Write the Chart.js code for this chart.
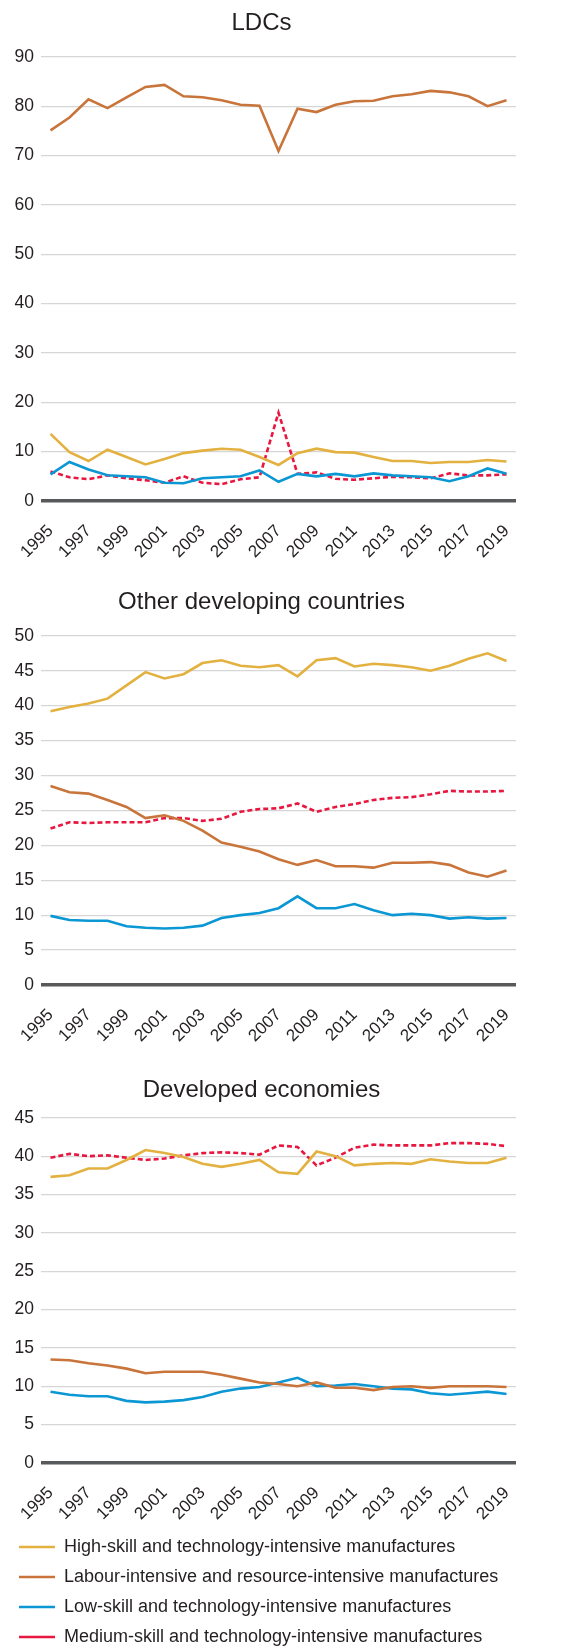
<!DOCTYPE html>
<html>
<head>
<meta charset="utf-8">
<script src="https://cdn.jsdelivr.net/npm/chart.js@4"></script>
<style>
  html, body { margin: 0; padding: 0; background: #fff; }
  body { width: 586px; height: 1646px; position: relative; overflow: hidden; }
  .box { position: absolute; left: 0; width: 586px; }
</style>
</head>
<body>
<div class="box" style="top:1px;height:563px"><canvas id="ldcChart"></canvas></div>
<div class="box" style="top:582px;height:466px"><canvas id="odcChart"></canvas></div>
<div class="box" style="top:1065px;height:591px"><canvas id="devChart"></canvas></div>
<script>
// Years on the x axis
const years = ['1995', '1996', '1997', '1998', '1999', '2000', '2001', '2002', '2003', '2004',
    '2005', '2006', '2007', '2008', '2009', '2010', '2011', '2012', '2013', '2014',
    '2015', '2016', '2017', '2018', '2019'];

const seriesNames = [
    'High-skill and technology-intensive manufactures',
    'Labour-intensive and resource-intensive manufactures',
    'Low-skill and technology-intensive manufactures',
    'Medium-skill and technology-intensive manufactures'
];

// LDCs (share, %)
const ldcHigh = [13.6, 9.9, 8.1, 10.4, 8.9, 7.4, 8.5, 9.7, 10.2, 10.6, 10.4, 8.9, 7.3, 9.7, 10.6, 9.9, 9.8, 8.9, 8.1, 8.1, 7.7, 7.9, 7.9, 8.3, 8.0];
const ldcLabour = [75.1, 77.7, 81.4, 79.6, 81.8, 83.9, 84.3, 82.0, 81.8, 81.2, 80.3, 80.1, 70.9, 79.5, 78.8, 80.3, 81.0, 81.1, 82.0, 82.4, 83.1, 82.8, 82.0, 80.0, 81.2];
const ldcLow = [5.4, 7.9, 6.4, 5.2, 5.0, 4.8, 3.7, 3.6, 4.6, 4.8, 5.0, 6.2, 3.9, 5.5, 5.0, 5.5, 5.0, 5.6, 5.2, 5.0, 4.8, 4.0, 5.0, 6.6, 5.5];
const ldcMedium = [6.0, 4.8, 4.4, 5.2, 4.6, 4.2, 3.7, 5.0, 3.7, 3.4, 4.4, 4.8, 17.9, 5.5, 5.8, 4.5, 4.3, 4.6, 4.9, 4.8, 4.6, 5.6, 5.2, 5.2, 5.4];

// Other developing countries
const odcHigh = [39.2, 39.8, 40.3, 41.0, 42.9, 44.8, 43.9, 44.5, 46.1, 46.5, 45.7, 45.5, 45.8, 44.2, 46.5, 46.8, 45.6, 46.0, 45.8, 45.5, 45.0, 45.7, 46.7, 47.5, 46.4];
const odcLabour = [28.5, 27.6, 27.4, 26.5, 25.5, 23.9, 24.3, 23.5, 22.1, 20.4, 19.8, 19.1, 18.0, 17.2, 17.9, 17.0, 17.0, 16.8, 17.5, 17.5, 17.6, 17.2, 16.1, 15.5, 16.4];
const odcLow = [9.9, 9.3, 9.2, 9.2, 8.4, 8.2, 8.1, 8.2, 8.5, 9.6, 10.0, 10.3, 11.0, 12.7, 11.0, 11.0, 11.6, 10.7, 10.0, 10.2, 10.0, 9.5, 9.7, 9.5, 9.6];
const odcMedium = [22.4, 23.3, 23.2, 23.3, 23.3, 23.3, 23.9, 23.9, 23.5, 23.8, 24.8, 25.2, 25.3, 26.0, 24.8, 25.5, 25.9, 26.5, 26.8, 26.9, 27.3, 27.8, 27.7, 27.7, 27.8];

// Developed economies
const devHigh = [37.3, 37.5, 38.4, 38.4, 39.5, 40.8, 40.4, 39.9, 39.0, 38.6, 39.0, 39.5, 37.9, 37.7, 40.6, 40.0, 38.8, 39.0, 39.1, 39.0, 39.6, 39.3, 39.1, 39.1, 39.8];
const devLabour = [13.5, 13.4, 13.0, 12.7, 12.3, 11.7, 11.9, 11.9, 11.9, 11.5, 11.0, 10.5, 10.3, 10.0, 10.5, 9.8, 9.8, 9.5, 9.9, 10.0, 9.8, 10.0, 10.0, 10.0, 9.9];
const devLow = [9.3, 8.9, 8.7, 8.7, 8.1, 7.9, 8.0, 8.2, 8.6, 9.3, 9.7, 9.9, 10.5, 11.1, 10.0, 10.1, 10.3, 10.0, 9.7, 9.6, 9.1, 8.9, 9.1, 9.3, 9.0];
const devMedium = [39.8, 40.3, 40.0, 40.1, 39.8, 39.5, 39.7, 40.1, 40.4, 40.5, 40.4, 40.2, 41.4, 41.2, 38.8, 39.8, 41.1, 41.5, 41.4, 41.4, 41.4, 41.7, 41.7, 41.6, 41.3];

const colors = ['#e3b140', '#c8743a', '#0b97d3', '#e8173f'];
const FONT = "'Liberation Sans', Arial, sans-serif";
const TEXT = '#231f20';

function makeDatasets(high, labour, low, medium) {
    return [high, labour, low, medium].map((d, i) => ({
        label: seriesNames[i],
        data: d,
        borderColor: colors[i],
        backgroundColor: colors[i],
        borderWidth: 2.6,
        borderDash: i === 3 ? [5, 3] : [],
        pointRadius: 0,
        tension: 0,
        fill: false
    }));
}

function makeChart(id, title, datasets, yMax, yStep, titlePad, showLegend) {
    return new Chart(document.getElementById(id), {
        type: 'line',
        data: { labels: years, datasets: datasets },
        options: {
            responsive: true,
            maintainAspectRatio: false,
            animation: false,
            layout: { padding: { left: 7, right: 70, top: 0, bottom: 0 } },
            plugins: {
                title: {
                    display: true,
                    text: title,
                    color: TEXT,
                    font: { family: FONT, size: 24, weight: 'normal' },
                    padding: titlePad
                },
                legend: {
                    display: showLegend,
                    position: 'bottom',
                    align: 'start',
                    labels: {
                        usePointStyle: true,
                        pointStyle: 'line',
                        pointStyleWidth: 36,
                        padding: 12,
                        color: TEXT,
                        font: { family: FONT, size: 18 }
                    }
                },
                tooltip: { enabled: false }
            },
            scales: {
                x: {
                    offset: true,
                    afterFit: (scale) => { scale.height = 63; },
                    grid: { display: false, drawTicks: false },
                    border: { display: false },
                    ticks: {
                        autoSkip: false,
                        minRotation: 45,
                        maxRotation: 45,
                        padding: 20,
                        color: TEXT,
                        font: { family: FONT, size: 17 },
                        callback: function (val, idx) { return idx % 2 === 0 ? this.getLabelForValue(val) : ''; }
                    }
                },
                y: {
                    min: 0,
                    max: yMax,
                    afterFit: (scale) => { scale.width = 34; },
                    grid: {
                        drawTicks: false,
                        color: (ctx) => ctx.tick.value === 0 ? '#58595b' : '#d6d6d6',
                        lineWidth: (ctx) => ctx.tick.value === 0 ? 3.5 : 1.2
                    },
                    border: { display: false },
                    ticks: {
                        stepSize: yStep,
                        padding: 7,
                        color: TEXT,
                        font: { family: FONT, size: 17.5 }
                    }
                }
            }
        }
    });
}

makeChart('ldcChart', 'LDCs', makeDatasets(ldcHigh, ldcLabour, ldcLow, ldcMedium), 90, 10, { top: 8, bottom: 19 }, false);
makeChart('odcChart', 'Other developing countries', makeDatasets(odcHigh, odcLabour, odcLow, odcMedium), 50, 5, { top: 6, bottom: 19 }, false);
makeChart('devChart', 'Developed economies', makeDatasets(devHigh, devLabour, devLow, devMedium), 45, 5, { top: 11, bottom: 13 }, true);
</script>
</body>
</html>
